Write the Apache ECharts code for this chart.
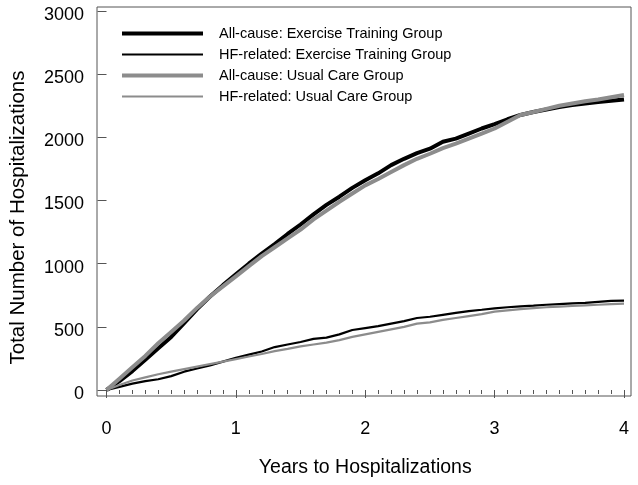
<!DOCTYPE html>
<html>
<head>
<meta charset="utf-8">
<script src="https://cdn.jsdelivr.net/npm/echarts@6/dist/echarts.min.js"></script>
<style>html,body{margin:0;padding:0;background:#fff}#c{width:638px;height:485px}</style>
</head>
<body>
<div id="c"></div>
<script>
var years = [0,0.1,0.2,0.3,0.4,0.5,0.6,0.7,0.8,0.9,1.0,1.1,1.2,1.3,1.4,1.5,1.6,1.7,1.8,1.9,2.0,2.1,2.2,2.3,2.4,2.5,2.6,2.7,2.8,2.9,3.0,3.1,3.2,3.3,3.4,3.5,3.6,3.7,3.8,3.9,4.0];
var allCauseExercise = [0,70,150,240,330,420,530,640,740,830,915,1000,1080,1155,1235,1310,1390,1465,1530,1600,1660,1715,1780,1830,1875,1910,1965,1990,2030,2070,2105,2143,2177,2200,2220,2240,2255,2268,2280,2290,2300];
var hfExercise = [0,25,50,70,85,110,145,170,195,225,255,280,305,340,360,380,405,415,440,475,490,505,525,545,570,580,595,610,625,635,646,655,662,668,675,680,685,690,698,705,707];
var allCauseUsual = [0,90,180,270,370,460,550,650,740,820,900,980,1060,1130,1200,1270,1350,1420,1490,1555,1620,1670,1725,1780,1830,1870,1915,1950,1990,2030,2070,2124,2177,2200,2225,2250,2268,2285,2300,2318,2335];
var hfUsual = [0,40,75,100,125,145,165,185,205,225,245,265,285,308,325,345,360,375,395,420,440,460,480,500,525,535,555,570,585,600,620,630,640,648,655,660,665,670,675,680,683];
var seriesNames = ['All-cause: Exercise Training Group','HF-related: Exercise Training Group','All-cause: Usual Care Group','HF-related: Usual Care Group'];
var xTicks = [0,1,2,3,4];
var yTicks = [0,500,1000,1500,2000,2500,3000];

function pairs(ys){ return years.map(function(x,i){ return [x, ys[i]]; }); }

var FONT = 'Liberation Sans, Arial, Helvetica, sans-serif';
var BLACK = '#000000', GRAY = '#8c8c8c', AXC = '#555555';
var widths = [4, 2.2, 4, 2.2];
var colors = [BLACK, BLACK, GRAY, GRAY];

var chart = echarts.init(document.getElementById('c'), null, {renderer:'canvas'});
var option = {
  backgroundColor: '#ffffff',
  animation: false,
  textStyle: {fontFamily: FONT},
  legend: {
    left: 115, top: 21, orient: 'vertical',
    itemWidth: 81, itemHeight: 14, itemGap: 6,
    itemStyle: {opacity: 0},
    textStyle: {fontFamily: FONT, fontSize: 14.5, color: '#000', padding: [0,0,0,11]},
    data: seriesNames.map(function(n,i){ return {name: n, itemStyle: {opacity: 0}, lineStyle: {color: colors[i], width: widths[i]}}; })
  },
  grid: [
    {left: 97, right: 7, top: 7, bottom: 89, show: true, borderColor: AXC, borderWidth: 1, backgroundColor: 'transparent'},
    {left: 102.5, right: 14, top: 11, bottom: 95}
  ],
  xAxis: [
    {gridIndex: 0, type: 'value', show: false, min: 0, max: 1},
    {gridIndex: 1, type: 'value', min: xTicks[0], max: xTicks[xTicks.length-1], interval: 1, offset: 6,
     axisLine: {show: false},
     axisTick: {show: true, length: 8, lineStyle: {color: AXC, width: 1}},
     minorTick: {show: true, splitNumber: 10, length: 4, lineStyle: {color: AXC, width: 1}},
     splitLine: {show: false}, minorSplitLine: {show: false},
     axisLabel: {fontFamily: FONT, fontSize: 18, color: '#000', margin: 24},
     name: 'Years to Hospitalizations', nameLocation: 'middle', nameGap: 62,
     nameTextStyle: {fontFamily: FONT, fontSize: 19.5, color: '#000'}}
  ],
  yAxis: [
    {gridIndex: 0, type: 'value', show: false, min: 0, max: 1},
    {gridIndex: 1, type: 'value', min: yTicks[0], max: yTicks[yTicks.length-1], interval: 500, offset: 5.5,
     axisLine: {show: false},
     axisTick: {show: true, length: 9, lineStyle: {color: AXC, width: 1}},
     splitLine: {show: false},
     axisLabel: {fontFamily: FONT, fontSize: 18, color: '#000', margin: 17, verticalAlign: 'top', lineHeight: 8,
       formatter: function(v){ return String(v); }},
     name: 'Total Number of Hospitalizations', nameLocation: 'middle', nameGap: 72, nameRotate: 90,
     nameTextStyle: {fontFamily: FONT, fontSize: 20.5, color: '#000', padding: [0,34,0,0]}}
  ],
  series: [
    {name: seriesNames[0], type: 'line', xAxisIndex: 1, yAxisIndex: 1, data: pairs(allCauseExercise), symbol: 'none', lineStyle: {color: BLACK, width: widths[0]}, itemStyle: {color: BLACK}},
    {name: seriesNames[1], type: 'line', xAxisIndex: 1, yAxisIndex: 1, data: pairs(hfExercise), symbol: 'none', lineStyle: {color: BLACK, width: widths[1]}, itemStyle: {color: BLACK}},
    {name: seriesNames[2], type: 'line', xAxisIndex: 1, yAxisIndex: 1, data: pairs(allCauseUsual), symbol: 'none', lineStyle: {color: GRAY, width: widths[2]}, itemStyle: {color: GRAY}},
    {name: seriesNames[3], type: 'line', xAxisIndex: 1, yAxisIndex: 1, data: pairs(hfUsual), symbol: 'none', lineStyle: {color: GRAY, width: widths[3]}, itemStyle: {color: GRAY}}
  ]
};
chart.setOption(option);
</script>
</body>
</html>
